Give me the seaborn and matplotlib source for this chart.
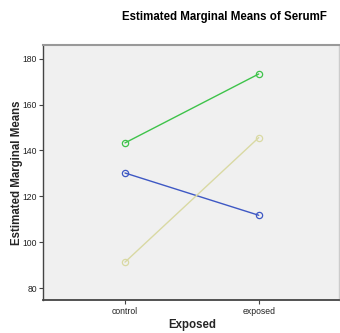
import matplotlib
matplotlib.use("Agg")
import matplotlib.pyplot as plt
import seaborn as sns
import pandas as pd

exposed = ["control", "exposed"]
groups = ["1", "2", "3"]
means_g1 = [130.2, 111.8]
means_g2 = [143.3, 173.3]
means_g3 = [91.4, 145.6]
colors = ["#3e58c4", "#3ec34a", "#d9d9a3"]

rows = []
for g, vals in zip(groups, [means_g1, means_g2, means_g3]):
    for e, v in zip(exposed, vals):
        rows.append({"Exposed": e, "Group": g, "Mean": v})
df = pd.DataFrame(rows)

sns.set_style("white")
plt.rcParams['font.family'] = ['Liberation Sans', 'DejaVu Sans']

fig = plt.figure(figsize=(3.4, 3.33), dpi=100)
ax = fig.add_axes([0.1265, 0.0976, 0.8705, 0.7658])
ax.set_facecolor("#f0f0f0")

sns.lineplot(data=df, x="Exposed", y="Mean", hue="Group", palette=colors,
             marker="o", markersize=4.5, markerfacecolor="none",
             markeredgewidth=0.9, linewidth=1.0, legend=False, ax=ax,
             sort=False)
for line in ax.get_lines():
    line.set_markeredgecolor(line.get_color())

ax.set_xlim(-0.613, 1.60)
ax.set_ylim(74.7, 185.7)
ax.set_yticks([80, 100, 120, 140, 160, 180])
ax.set_xticks([0, 1])
ax.set_xticklabels(exposed)

ax.spines["left"].set_color("#444444")
ax.spines["left"].set_linewidth(1.0)
ax.spines["bottom"].set_color("#444444")
ax.spines["bottom"].set_linewidth(1.3)
ax.spines["top"].set_color("#999999")
ax.spines["top"].set_linewidth(1.5)
ax.spines["right"].set_color("#cccccc")
ax.spines["right"].set_linewidth(1.0)

ax.tick_params(axis="both", which="both", direction="out", length=3, width=0.8,
               color="#444444", labelsize=6.2, labelcolor="#222222", pad=1.5,
               left=True, bottom=True)

ax.set_xlabel("Exposed", fontsize=8.3, fontweight="bold", va="center")
ax.xaxis.set_label_coords(0.503, -0.096)
ax.set_ylabel("Estimated Marginal Means", fontsize=8.3, fontweight="bold", va="center")
ax.yaxis.set_label_coords(-0.088, 0.5)
fig.text(0.66, 0.949, "Estimated Marginal Means of SerumF", fontsize=8.3,
         fontweight="bold", ha="center", va="center", color="black")

fig.savefig("out.png", dpi=100)
